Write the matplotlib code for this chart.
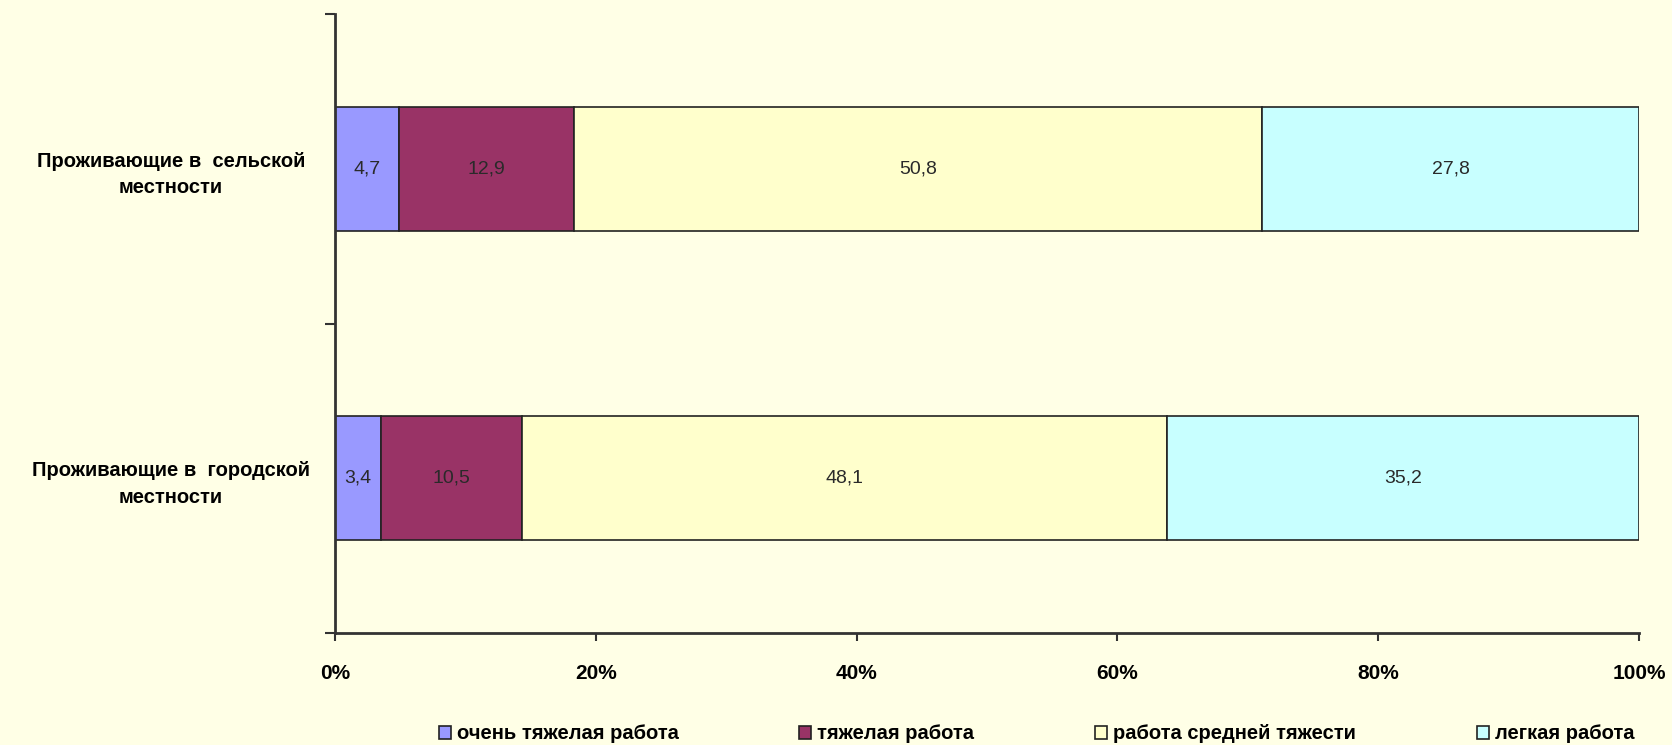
import numpy as np
import matplotlib.pyplot as plt

categories = ["Проживающие в  сельской\nместности", "Проживающие в  городской\nместности"]
series_names = ["очень тяжелая работа", "тяжелая работа", "работа средней тяжести", "легкая работа"]
very_heavy = [4.7, 3.4]
heavy = [12.9, 10.5]
medium = [50.8, 48.1]
light = [27.8, 35.2]
colors = ["#9999FF", "#993366", "#FFFFCC", "#C8FFFF"]

bg = "#FFFFE6"
fig = plt.figure(figsize=(16.72, 7.45), dpi=100, facecolor=bg)
ax = fig.add_axes([0.2004, 0.1503, 0.7799, 0.8309], facecolor=bg)

data = np.array([very_heavy, heavy, medium, light])
pct = data / data.sum(axis=0) * 100
y = np.arange(len(categories))
left = np.zeros(len(categories))
for vals, p, name, c in zip(data, pct, series_names, colors):
    bars = ax.barh(y, p, left=left, height=0.4, color=c, edgecolor="#222222",
                   linewidth=1.2, label=name)
    for b, v in zip(bars, vals):
        ax.text(b.get_x() + b.get_width() / 2, b.get_y() + b.get_height() / 2,
                f"{v:.1f}".replace(".", ","), ha="center", va="center",
                fontsize=14, color="#2a2a2a", family="Liberation Sans")
    left += p

ax.set_xlim(0, 100)
ax.set_ylim(1.5, -0.5)
ax.set_xticks(np.arange(0, 101, 20))
ax.set_xticklabels([f"{t}%" for t in range(0, 101, 20)], fontsize=15,
                   fontweight="bold", family="Liberation Sans")
ax.set_yticks([-0.5, 0.5, 1.5])
ax.set_yticklabels([])
ax.set_yticks(y, minor=True)
ax.set_yticklabels(categories, minor=True, fontsize=14.5, fontweight="bold",
                   family="Liberation Sans", ha="center", multialignment="center",
                   linespacing=1.5)
ax.tick_params(axis="y", which="minor", length=0, pad=118)
ax.tick_params(axis="y", which="major", length=7, width=1.5, color="#333333")
ax.tick_params(axis="x", length=6, width=1.5, color="#333333", pad=16)
for s in ["top", "right"]:
    ax.spines[s].set_visible(False)
for s in ["left", "bottom"]:
    ax.spines[s].set_linewidth(2)
    ax.spines[s].set_color("#333333")

fig.legend(loc="lower center", bbox_to_anchor=(0.62, -0.022), ncol=4, frameon=False,
           handlelength=0.6, handleheight=0.6, handletextpad=0.3, columnspacing=6,
           prop={"family": "Liberation Sans", "weight": "bold", "size": 14.5})

fig.savefig("out.png", dpi=100, facecolor=bg)
